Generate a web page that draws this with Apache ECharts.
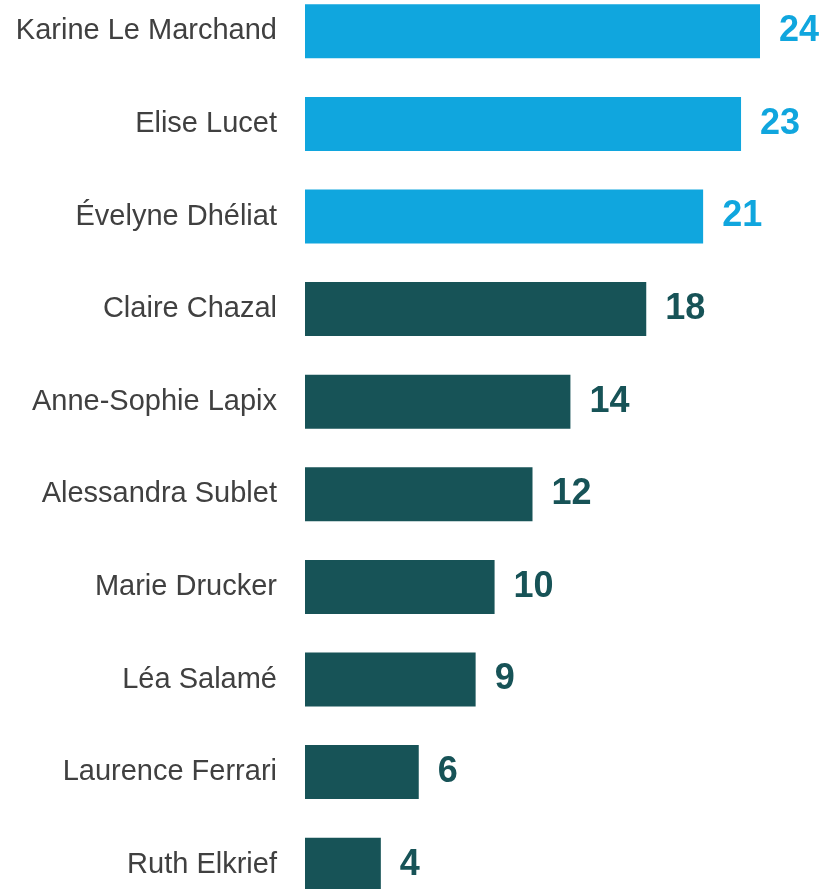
<!DOCTYPE html>
<html>
<head>
<meta charset="utf-8">
<script src="https://cdn.jsdelivr.net/npm/echarts@6/dist/echarts.min.js"></script>
<style>
  html, body { margin: 0; padding: 0; background: #fff; }
  #chart { width: 825px; height: 889px; }
</style>
</head>
<body>
<div id="chart"></div>
<script>
var names = ['Karine Le Marchand', 'Elise Lucet', 'Évelyne Dhéliat', 'Claire Chazal',
  'Anne-Sophie Lapix', 'Alessandra Sublet', 'Marie Drucker', 'Léa Salamé',
  'Laurence Ferrari', 'Ruth Elkrief'];
var values = [24, 23, 21, 18, 14, 12, 10, 9, 6, 4];
var highlighted = [true, true, true, false, false, false, false, false, false, false];

var blue = '#10a6de';
var teal = '#175357';

var myChart = echarts.init(document.getElementById('chart'));

var data = [];
for (var i = 0; i < values.length; i++) {
  var c = highlighted[i] ? blue : teal;
  data.push({
    value: values[i],
    itemStyle: { color: c },
    label: { color: c }
  });
}

var option = {
  animation: false,
  grid: {
    left: 305,
    top: -15,
    width: 455,
    height: 926,
    containLabel: false,
    outerBoundsMode: 'none'
  },
  xAxis: {
    type: 'value',
    min: 0,
    max: 24,
    show: false
  },
  yAxis: {
    type: 'category',
    inverse: true,
    data: names,
    axisLine: { show: false },
    axisTick: { show: false },
    axisLabel: {
      margin: 28,
      fontFamily: 'Liberation Sans, Arial, sans-serif',
      fontSize: 29,
      color: '#404040',
      padding: [4, 0, 0, 0]
    }
  },
  series: [
    {
      type: 'bar',
      data: data,
      barWidth: 54,
      label: {
        show: true,
        position: 'right',
        distance: 19,
        fontFamily: 'Liberation Sans, Arial, sans-serif',
        fontSize: 36,
        fontWeight: 'bold',
        padding: [4, 0, 0, 0]
      }
    }
  ]
};
myChart.setOption(option);
</script>
</body>
</html>
